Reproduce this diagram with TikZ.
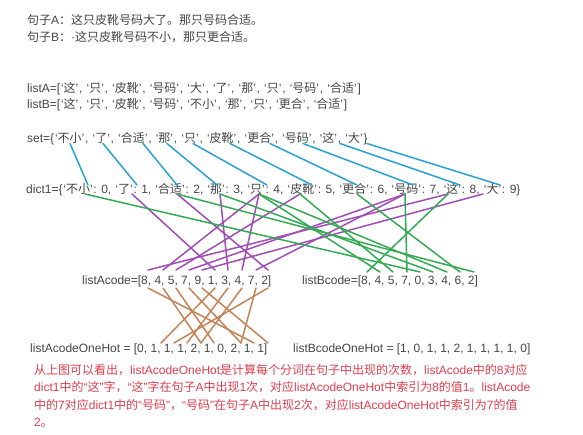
\documentclass[tikz,border=0pt]{standalone}
\usepackage{fontspec}
\setmainfont{Liberation Sans}
\newfontfamily\cjk{Noto Sans CJK SC}
\newcommand\z[1]{{\cjk #1}}
\newcommand\Q[1]{\kern0.8pt‘\z{#1}’\kern0.8pt}
\definecolor{txtgray}{RGB}{70,70,70}
\definecolor{redtxt}{RGB}{222,62,78}
\definecolor{lblue}{RGB}{40,162,212}
\definecolor{lgreen}{RGB}{52,170,84}
\definecolor{lpurple}{RGB}{160,78,182}
\definecolor{lbrown}{RGB}{196,132,88}
\begin{document}
\begin{tikzpicture}[x=1pt,y=-1pt,
  txt/.style={font=\fontsize{12}{17}\selectfont, text=txtgray, inner sep=0pt, anchor=base west},
  redline/.style={txt, text=redtxt},
  conn/.style={line width=1.5pt, line cap=round},
  bl/.style={conn, draw=lblue},
  gr/.style={conn, draw=lgreen},
  pu/.style={conn, draw=lpurple},
  br/.style={conn, draw=lbrown}]
\path[fill=white,use as bounding box] (0,0) rectangle (583,435);

% texts
\node[txt] (sa) at (27,25) {\z{句子}A\z{：这只皮靴号码大了。那只号码合适。}};
\node[txt] (sb) at (27,42) {\z{句子}B\z{：}·\z{这只皮靴号码不小，那只更合适。}};
\node[txt] (la) at (27,92.5) {listA=[\Q{这}, \Q{只}, \Q{皮靴}, \Q{号码}, \Q{大}, \Q{了}, \Q{那}, \Q{只}, \Q{号码}, \Q{合适}]};
\node[txt] (lb) at (27,108.5) {listB=[\Q{这}, \Q{只}, \Q{皮靴}, \Q{号码}, \Q{不小}, \Q{那}, \Q{只}, \Q{更合}, \Q{合适}]};
\node[txt] (set) at (27,142.5) {set=\{\Q{不小}, \Q{了}, \Q{合适}, \Q{那}, \Q{只}, \Q{皮靴}, \Q{更合}, \Q{号码}, \Q{这}, \Q{大}\}};
\node[txt] (dict) at (26,193.5) {dict1=\{\Q{不小}: 0, \Q{了}: 1, \Q{合适}: 2, \Q{那}: 3, \Q{只}: 4, \Q{皮靴}: 5, \Q{更合}: 6, \Q{号码}: 7, \Q{这}: 8, \Q{大}: 9\}};
\node[txt] (acode) at (82,284.5) {listAcode=[8, 4, 5, 7, 9, 1, 3, 4, 7, 2]};
\node[txt] (bcode) at (302,284.5) {listBcode=[8, 4, 5, 7, 0, 3, 4, 6, 2]};
\node[txt] (aoh) at (30,352.5) {listAcodeOneHot = [0, 1, 1, 1, 2, 1, 0, 2, 1, 1]};
\node[txt] (boh) at (293,352.5) {listBcodeOneHot = [1, 0, 1, 1, 2, 1, 1, 1, 1, 0]};
\node[redline] (note1) at (34,374) {\z{从上图可以看出，}listAcodeOneHot\z{是计算每个分词在句子中出现的次数，}listAcode\z{中的}8\z{对应}};
\node[redline] (note2) at (34,391.5) {dict1\z{中的}“\z{这}”\z{字，}“\z{这}”\z{字在句子}A\z{中出现}1\z{次，对应}listAcodeOneHot\z{中索引为}8\z{的值}1\z{。}listAcode};
\node[redline] (note3) at (34,409) {\z{中的}7\z{对应}dict1\z{中的}“\z{号码}”\z{，}“\z{号码}”\z{在句子}A\z{中出现}2\z{次，对应}listAcodeOneHot\z{中索引为}7\z{的值}};
\node[redline] (note4) at (34,426.5) {2\z{。}};

% anchor coordinates
% set tokens (bottom) and dict1 tokens (top) for blue lines
\foreach \i/\x in {0/70,1/103,2/143,3/167,4/193,5/230,6/270,7/303,8/340,9/367}
  \coordinate (st\i) at (\x,143.5);
\foreach \i/\x in {0/88,1/137,2/177,3/217,4/267,5/312,6/357,7/413,8/460,9/500}
  \coordinate (dt\i) at (\x,185);
% dict1 tokens (bottom), index = value
\foreach \i/\x in {0/85,1/132,2/177,3/220,4/259,5/300,6/357,7/405,8/448,9/483}
  \coordinate (db\i) at (\x,194);
% listAcode tops and bottoms
\foreach \i/\x in {0/148,1/163,2/176,3/189,4/202,5/215,6/228,7/242,8/256,9/268}{
  \coordinate (at\i) at (\x,270);
  \coordinate (ab\i) at (\x,288);}
% listBcode tops
\foreach \i/\x in {0/367,1/380,2/393,3/407,4/420,5/433,6/447,7/460,8/474}
  \coordinate (bt\i) at (\x,272);
% listAcodeOneHot tops
\foreach \i/\x in {0/147,1/161,2/174,3/187,4/201,5/214,6/227,7/241,8/254,9/268}
  \coordinate (ht\i) at (\x,343);

% blue: set -> dict1
\foreach \i in {0,...,9} \draw[bl] (st\i) -- (dt\i);
% purple: dict1 -> listAcode
\foreach \i/\v in {0/8,1/4,2/5,3/7,4/9,5/1,6/3,7/4,8/7,9/2} \draw[pu] (db\v) -- (at\i);
% green: dict1 -> listBcode
\foreach \i/\v in {0/8,1/4,2/5,3/7,4/0,5/3,6/4,7/6,8/2} \draw[gr] (db\v) -- (bt\i);
% brown: listAcode -> listAcodeOneHot
\foreach \i/\v in {0/8,1/4,2/5,3/7,4/9,5/1,6/3,7/4,8/7,9/2} \draw[br] (ab\i) -- (ht\v);
\end{tikzpicture}
\end{document}
